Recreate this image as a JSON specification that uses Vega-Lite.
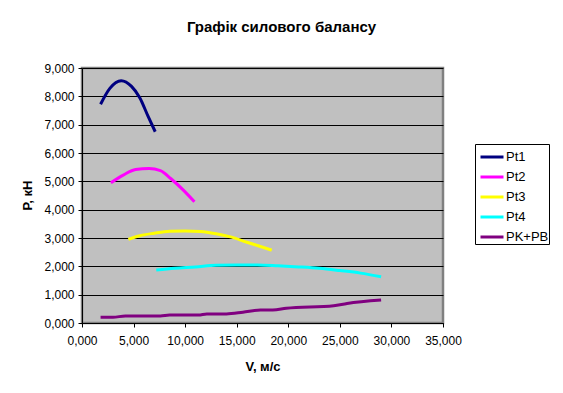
{
  "$schema": "https://vega.github.io/schema/vega-lite/v6.json",
  "autosize": "none",
  "width": 361,
  "height": 255,
  "padding": {"left": 82, "top": 68, "right": 120, "bottom": 70},
  "background": "white",
  "config": {
    "locale": {"number": {"decimal": ",", "thousands": " ", "grouping": [3], "currency": ["", ""]}},
    "font": "Liberation Sans",
    "view": {"fill": "#C0C0C0", "stroke": "#808080", "strokeWidth": 2.5}
  },
  "title": {
    "text": "Графік силового балансу",
    "font": "Liberation Sans",
    "fontSize": 15,
    "fontWeight": "bold",
    "color": "black",
    "anchor": "middle",
    "frame": "group",
    "dx": 19,
    "offset": 27
  },
  "data": {
    "values": [
      {"series": "Pt1", "v": 1.8, "p": 7.72},
      {"series": "Pt1", "v": 2.7, "p": 8.28},
      {"series": "Pt1", "v": 3.8, "p": 8.55},
      {"series": "Pt1", "v": 4.8, "p": 8.35},
      {"series": "Pt1", "v": 5.6, "p": 7.95},
      {"series": "Pt1", "v": 6.4, "p": 7.3},
      {"series": "Pt1", "v": 7.1, "p": 6.75},
      {"series": "Pt2", "v": 2.8, "p": 4.95},
      {"series": "Pt2", "v": 4.0, "p": 5.22},
      {"series": "Pt2", "v": 5.2, "p": 5.42},
      {"series": "Pt2", "v": 6.5, "p": 5.45},
      {"series": "Pt2", "v": 7.6, "p": 5.38},
      {"series": "Pt2", "v": 8.6, "p": 5.1},
      {"series": "Pt2", "v": 9.8, "p": 4.7},
      {"series": "Pt2", "v": 10.9, "p": 4.28},
      {"series": "Pt3", "v": 4.5, "p": 2.95},
      {"series": "Pt3", "v": 5.5, "p": 3.07},
      {"series": "Pt3", "v": 7.0, "p": 3.17},
      {"series": "Pt3", "v": 8.5, "p": 3.24},
      {"series": "Pt3", "v": 10.0, "p": 3.25},
      {"series": "Pt3", "v": 11.5, "p": 3.23},
      {"series": "Pt3", "v": 13.0, "p": 3.15},
      {"series": "Pt3", "v": 14.5, "p": 3.03},
      {"series": "Pt3", "v": 16.0, "p": 2.85},
      {"series": "Pt3", "v": 17.3, "p": 2.7},
      {"series": "Pt3", "v": 18.4, "p": 2.57},
      {"series": "Pt4", "v": 7.2, "p": 1.87},
      {"series": "Pt4", "v": 9.0, "p": 1.93},
      {"series": "Pt4", "v": 11.0, "p": 1.98},
      {"series": "Pt4", "v": 13.0, "p": 2.04},
      {"series": "Pt4", "v": 15.0, "p": 2.05},
      {"series": "Pt4", "v": 17.0, "p": 2.05},
      {"series": "Pt4", "v": 19.0, "p": 2.02},
      {"series": "Pt4", "v": 21.0, "p": 1.98},
      {"series": "Pt4", "v": 23.0, "p": 1.93},
      {"series": "Pt4", "v": 25.0, "p": 1.85},
      {"series": "Pt4", "v": 27.0, "p": 1.76},
      {"series": "Pt4", "v": 29.0, "p": 1.63},
      {"series": "PK+PB", "v": 1.8, "p": 0.2},
      {"series": "PK+PB", "v": 3.0, "p": 0.2},
      {"series": "PK+PB", "v": 4.2, "p": 0.25},
      {"series": "PK+PB", "v": 7.6, "p": 0.25},
      {"series": "PK+PB", "v": 8.5, "p": 0.28},
      {"series": "PK+PB", "v": 11.3, "p": 0.28},
      {"series": "PK+PB", "v": 12.1, "p": 0.32},
      {"series": "PK+PB", "v": 14.0, "p": 0.32},
      {"series": "PK+PB", "v": 15.6, "p": 0.38},
      {"series": "PK+PB", "v": 17.3, "p": 0.46},
      {"series": "PK+PB", "v": 18.5, "p": 0.46},
      {"series": "PK+PB", "v": 19.8, "p": 0.52},
      {"series": "PK+PB", "v": 24.4, "p": 0.61},
      {"series": "PK+PB", "v": 25.7, "p": 0.69},
      {"series": "PK+PB", "v": 29.0, "p": 0.81}
    ]
  },
  "mark": {"type": "line", "interpolate": "monotone"},
  "encoding": {
    "x": {
      "field": "v", "type": "quantitative",
      "scale": {"domain": [0, 35], "nice": false, "zero": false},
      "axis": {
        "title": "V, м/с",
        "values": [0, 5, 10, 15, 20, 25, 30, 35],
        "format": ".3f",
        "grid": false,
        "labelFlush": false, "labelOverlap": false,
        "domainColor": "black", "domainWidth": 1,
        "tickColor": "black", "tickSize": 4,
        "labelFont": "Liberation Sans", "labelFontSize": 12, "labelColor": "black",
        "labelPadding": 8,
        "titleFont": "Liberation Sans", "titleFontSize": 13, "titleFontWeight": "bold", "titleColor": "black",
        "titleBaseline": "middle", "titleY": 43
      }
    },
    "y": {
      "field": "p", "type": "quantitative",
      "scale": {"domain": [0, 9], "nice": false, "zero": false},
      "axis": {
        "title": "Р, кН",
        "values": [0, 1, 2, 3, 4, 5, 6, 7, 8, 9],
        "format": ".3f",
        "grid": true, "gridColor": "black", "gridWidth": 1, "gridOpacity": 1,
        "labelFlush": false, "labelOverlap": false,
        "domainColor": "black", "domainWidth": 1,
        "tickColor": "black", "tickSize": 4,
        "labelFont": "Liberation Sans", "labelFontSize": 12, "labelColor": "black",
        "labelPadding": 4,
        "titleFont": "Liberation Sans", "titleFontSize": 13, "titleFontWeight": "bold", "titleColor": "black",
        "titleX": -55, "titleY": 127, "titleBaseline": "middle", "titleAngle": 270
      }
    },
    "color": {
      "field": "series", "type": "nominal",
      "scale": {"domain": ["Pt1", "Pt2", "Pt3", "Pt4", "PK+PB"], "range": ["#000080", "#FF00FF", "#FFFF00", "#00FFFF", "#800080"]},
      "legend": {
        "title": null,
        "orient": "none", "legendX": 393, "legendY": 76,
        "strokeColor": "black", "fillColor": "white",
        "padding": 0,
        "symbolType": "stroke", "symbolSize": 529,
        "symbolOffset": 4,
        "labelFont": "Liberation Sans", "labelFontSize": 13, "labelColor": "black",
        "labelOffset": 1, "rowPadding": 0,
        "labelExpr": "datum.label + '\u00a0\u00a0'"
      }
    },
    "strokeWidth": {
      "field": "series", "type": "nominal",
      "scale": {"domain": ["Pt1", "Pt2", "Pt3", "Pt4", "PK+PB"], "range": [3, 3, 3, 3, 1.6]},
      "legend": {
        "title": null,
        "orient": "none", "legendX": 393, "legendY": 76,
        "strokeColor": "black", "fillColor": "white",
        "padding": 0,
        "symbolType": "stroke", "symbolSize": 529,
        "symbolOffset": 4,
        "labelFont": "Liberation Sans", "labelFontSize": 13, "labelColor": "black",
        "labelOffset": 1, "rowPadding": 0,
        "labelExpr": "datum.label + '\u00a0\u00a0'"
      }
    }
  }
}
